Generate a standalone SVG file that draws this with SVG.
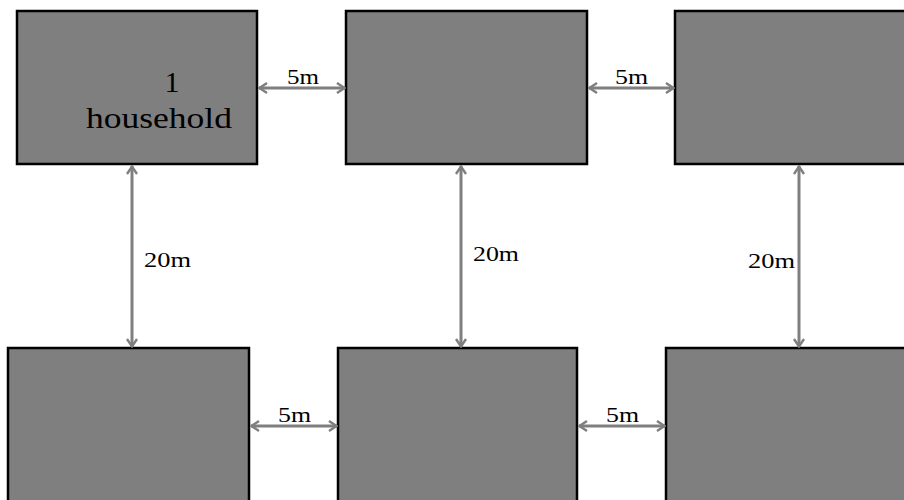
<svg xmlns="http://www.w3.org/2000/svg" width="904" height="500" viewBox="0 0 904 500">
<style>
.box{fill:#7f7f7f;stroke:#000;stroke-width:2.5}
.conn{stroke:#7f7f7f;stroke-width:3;fill:none;marker-start:url(#ah);marker-end:url(#ah)}
.lbl{font-family:"Liberation Serif","Times New Roman",serif;font-size:21px;fill:#000}
.big{font-family:"Liberation Serif","Times New Roman",serif;font-size:30px;fill:#000}
</style>
<defs>
<marker id="ah" viewBox="0 0 12 12" refX="11" refY="6" markerWidth="12" markerHeight="12" markerUnits="userSpaceOnUse" orient="auto-start-reverse">
<path d="M3,1 L10.5,6 L3,11" fill="none" stroke="#7f7f7f" stroke-width="2.4"/>
</marker>
</defs>
<rect width="904" height="500" fill="#fff"/>
<g id="node1"><rect class="box" x="17" y="11" width="240" height="153"/>
<text class="big" x="172" y="92" text-anchor="middle">1</text>
<text class="big" x="86" y="128" textLength="146" lengthAdjust="spacingAndGlyphs">household</text></g>
<g id="node2"><rect class="box" x="346" y="11" width="241" height="153"/></g>
<g id="node3"><rect class="box" x="675" y="11" width="240" height="153"/></g>
<g id="node4"><rect class="box" x="8" y="348" width="241" height="200"/></g>
<g id="node5"><rect class="box" x="338" y="348" width="239" height="200"/></g>
<g id="node6"><rect class="box" x="666" y="348" width="240" height="200"/></g>
<g id="connectors">
<line class="conn" x1="259" y1="88" x2="345" y2="88"/>
<line class="conn" x1="589" y1="88" x2="674" y2="88"/>
<line class="conn" x1="251" y1="426" x2="337" y2="426"/>
<line class="conn" x1="579" y1="426" x2="665" y2="426"/>
<line class="conn" x1="132" y1="166" x2="132" y2="347"/>
<line class="conn" x1="461" y1="166" x2="461" y2="347"/>
<line class="conn" x1="799" y1="166" x2="799" y2="347"/>
<text class="lbl" x="287" y="84" textLength="32" lengthAdjust="spacingAndGlyphs">5m</text>
<text class="lbl" x="615" y="84" textLength="33" lengthAdjust="spacingAndGlyphs">5m</text>
<text class="lbl" x="278" y="422" textLength="33" lengthAdjust="spacingAndGlyphs">5m</text>
<text class="lbl" x="606" y="422" textLength="33" lengthAdjust="spacingAndGlyphs">5m</text>
<text class="lbl" x="144" y="267" textLength="47" lengthAdjust="spacingAndGlyphs">20m</text>
<text class="lbl" x="473" y="261" textLength="46" lengthAdjust="spacingAndGlyphs">20m</text>
<text class="lbl" x="748" y="268" textLength="47" lengthAdjust="spacingAndGlyphs">20m</text>
</g>
</svg>
